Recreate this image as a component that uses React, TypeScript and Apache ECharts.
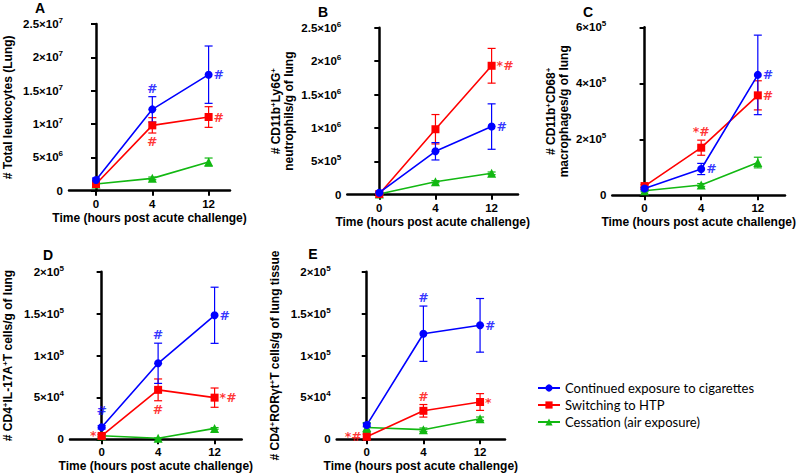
import React, { useEffect, useRef } from "react";
import * as echarts from "echarts";

const timeLabels = ["0", "4", "12"];
const seriesNames = [
  "Continued exposure to cigarettes",
  "Switching to HTP",
  "Cessation (air exposure)",
];
const seriesColors = ["#0000FF", "#FF0000", "#12B812"];
const seriesSymbols = ["circle", "rect", "triangle"];

// Panel A – total leukocytes
const aCig = [1.6e6, 12.2e6, 17.4e6];
const aCigErr = [0.3e6, 1.9e6, 4.3e6];
const aHtp = [1.0e6, 9.8e6, 11.05e6];
const aHtpErr = [0.2e6, 1.15e6, 1.55e6];
const aAir = [1.0e6, 1.85e6, 4.3e6];
const aAirErr = [0.1e6, 0.2e6, 0.6e6];

// Panel B – neutrophils
const bCig = [3e4, 6.5e5, 10.2e5];
const bCigErr = [1e4, 1.3e5, 3.4e5];
const bHtp = [1e4, 9.8e5, 1.93e6];
const bHtpErr = [5e3, 2.2e5, 2.6e5];
const bAir = [1e4, 1.95e5, 3.2e5];
const bAirErr = [5e3, 1.5e4, 2e4];

// Panel C – macrophages
const cCig = [2.4e4, 0.94e5, 4.3e5];
const cCigErr = [0.5e4, 0.2e5, 1.42e5];
const cHtp = [3.3e4, 1.7e5, 3.57e5];
const cHtpErr = [0.5e4, 0.27e5, 0.52e5];
const cAir = [1.6e4, 0.37e5, 1.17e5];
const cAirErr = [0.3e4, 0.05e5, 0.19e5];

// Panel D – CD4+IL-17A+ T cells
const dCig = [1.43e4, 9.07e4, 14.8e4];
const dCigErr = [0.2e4, 2.4e4, 3.35e4];
const dHtp = [0.4e4, 5.9e4, 4.97e4];
const dHtpErr = [0.2e4, 1.3e4, 1.15e4];
const dAir = [0.43e4, 0.12e4, 1.3e4];
const dAirErr = [0.1e4, 0.05e4, 0.1e4];

// Panel E – CD4+RORγt+ T cells
const eCig = [1.7e4, 12.6e4, 13.6e4];
const eCigErr = [0.2e4, 3.3e4, 3.2e4];
const eHtp = [0.3e4, 3.4e4, 4.45e4];
const eHtpErr = [0.3e4, 0.75e4, 1e4];
const eAir = [1.4e4, 1.15e4, 2.46e4];
const eAirErr = [0.6e4, 0.2e4, 0.2e4];

// significance marks: series index, time index, text, side
const notesA = [
  { s: 0, i: 1, text: "#", side: "top" },
  { s: 0, i: 2, text: "#", side: "right" },
  { s: 1, i: 2, text: "#", side: "right" },
  { s: 1, i: 1, text: "#", side: "bottom" },
];
const notesB = [
  { s: 1, i: 2, text: "*#", side: "right" },
  { s: 0, i: 2, text: "#", side: "right" },
];
const notesC = [
  { s: 1, i: 1, text: "*#", side: "top" },
  { s: 0, i: 1, text: "#", side: "right" },
  { s: 0, i: 2, text: "#", side: "right" },
  { s: 1, i: 2, text: "#", side: "right" },
];
const notesD = [
  { s: 0, i: 0, text: "#", side: "top", far: true },
  { s: 1, i: 0, text: "*", side: "left" },
  { s: 0, i: 1, text: "#", side: "top" },
  { s: 1, i: 1, text: "#", side: "bottom" },
  { s: 0, i: 2, text: "#", side: "right" },
  { s: 1, i: 2, text: "*#", side: "right" },
];
const notesE = [
  { s: 0, i: 1, text: "#", side: "top" },
  { s: 0, i: 2, text: "#", side: "right" },
  { s: 1, i: 1, text: "#", side: "top" },
  { s: 1, i: 2, text: "*", side: "right" },
  { s: 1, i: 0, text: "*#", side: "left" },
];

const xTitle = "Time (hours post acute challenge)";
const FONT = "Liberation Sans, Arial, sans-serif";
const NOTE_FONT = "DejaVu Sans, sans-serif";

const panels = [
  {
    letter: "A",
    letterPos: [40, 8],
    grid: { left: 69, top: 24, width: 161, height: 166.7 },
    xMin: -0.48,
    xMax: 2.38,
    yMax: 2.5e7,
    yInt: 5e6,
    yName: "# Total leukocytes (Lung)",
    yNameGap: 55,
    values: [aCig, aHtp, aAir],
    errs: [aCigErr, aHtpErr, aAirErr],
    notes: notesA,
  },
  {
    letter: "B",
    letterPos: [323, 12],
    grid: { left: 347.3, top: 27.7, width: 170.7, height: 167 },
    xMin: -0.57,
    xMax: 2.47,
    yMax: 2.5e6,
    yInt: 5e5,
    yName: "{t|# CD11b}{s|+}{t|Ly6G}{s|+}\n{t|neutrophils/g of lung}",
    yNameGap: 52,
    values: [bCig, bHtp, bAir],
    errs: [bCigErr, bHtpErr, bAirErr],
    notes: notesB,
  },
  {
    letter: "C",
    letterPos: [588, 12],
    grid: { left: 612.3, top: 27.3, width: 172.7, height: 168 },
    xMin: -0.57,
    xMax: 2.48,
    yMax: 6e5,
    yInt: 2e5,
    yName: "{t|# CD11b}{s|+}{t|CD68}{s|+}\n{t|macrophages/g of lung}",
    yNameGap: 42,
    values: [cCig, cHtp, cAir],
    errs: [cCigErr, cHtpErr, cAirErr],
    notes: notesC,
  },
  {
    letter: "D",
    letterPos: [48, 255],
    grid: { left: 69, top: 271.7, width: 172.7, height: 167.6 },
    xMin: -0.56,
    xMax: 2.48,
    yMax: 2e5,
    yInt: 5e4,
    yName: "{t|# CD4}{s|+}{t|IL-17A}{s|+}{t|T cells/g of lung}",
    yNameGap: 56,
    values: [dCig, dHtp, dAir],
    errs: [dCigErr, dHtpErr, dAirErr],
    notes: notesD,
  },
  {
    letter: "E",
    letterPos: [313, 254],
    grid: { left: 336.7, top: 271.7, width: 168.3, height: 167.6 },
    xMin: -0.53,
    xMax: 2.44,
    yMax: 2e5,
    yInt: 5e4,
    yName: "{t|# CD4}{s|+}{t|RORγt}{s|+}{t|T cells/g of lung tissue}",
    yNameGap: 55,
    values: [eCig, eHtp, eAir],
    errs: [eCigErr, eHtpErr, eAirErr],
    notes: notesE,
  },
];

function sciLabel(v: number) {
  if (v === 0) return "{m|0}";
  const e = Math.floor(Math.log10(v) + 1e-9);
  const m = +(v / Math.pow(10, e)).toFixed(2);
  return `{m|${m}×10}{e|${e}}`;
}

function buildOption() {
  const grids: any[] = [];
  const xAxes: any[] = [];
  const yAxes: any[] = [];
  const series: any[] = [];
  const graphics: any[] = [];

  panels.forEach((p, k) => {
    grids.push({ ...p.grid, containLabel: false });
    xAxes.push({
      type: "value",
      gridIndex: k,
      min: p.xMin,
      max: p.xMax,
      name: xTitle,
      nameLocation: "middle",
      nameGap: 21,
      nameTextStyle: { fontFamily: FONT, fontWeight: "bold", fontSize: 12, color: "#000" },
      axisLine: { show: true, onZero: false, lineStyle: { color: "#000", width: 2.5 } },
      axisTick: { show: true, length: 5, customValues: [0, 1, 2], lineStyle: { color: "#000", width: 2 } },
      axisLabel: {
        customValues: [0, 1, 2],
        formatter: (v: number) => timeLabels[Math.round(v)] ?? "",
        margin: 7,
        fontFamily: FONT,
        fontWeight: "bold",
        fontSize: 11.5,
        color: "#000",
      },
      splitLine: { show: false },
    });
    yAxes.push({
      type: "value",
      gridIndex: k,
      min: 0,
      max: p.yMax,
      interval: p.yInt,
      name: p.yName,
      nameLocation: "middle",
      nameRotate: 90,
      nameGap: p.yNameGap,
      nameTextStyle: {
        fontFamily: FONT,
        fontWeight: "bold",
        fontSize: 12,
        color: "#000",
        lineHeight: 13,
        rich: {
          t: { fontFamily: FONT, fontWeight: "bold", fontSize: 12, color: "#000", lineHeight: 13 },
          s: { fontFamily: FONT, fontWeight: "bold", fontSize: 8, color: "#000", verticalAlign: "top", lineHeight: 8 },
        },
      },
      axisLine: { show: true, lineStyle: { color: "#000", width: 2.5 } },
      axisTick: { show: true, length: 5, lineStyle: { color: "#000", width: 2 } },
      axisLabel: {
        margin: 6,
        formatter: sciLabel,
        rich: {
          m: { fontFamily: FONT, fontWeight: "bold", fontSize: 11.5, color: "#000", lineHeight: 15 },
          e: { fontFamily: FONT, fontWeight: "bold", fontSize: 8, color: "#000", verticalAlign: "top", lineHeight: 8 },
        },
      },
      splitLine: { show: false },
    });

    // draw order: air, HTP, cigarettes on top
    [2, 1, 0].forEach((s) => {
      const vals = p.values[s];
      const errs = p.errs[s];
      series.push({
        type: "custom",
        name: `err-${p.letter}-${s}`,
        xAxisIndex: k,
        yAxisIndex: k,
        silent: true,
        z: 2 + (2 - s),
        data: vals.map((v, i) => [i, v, errs[i]]),
        encode: { x: 0, y: 1 },
        renderItem: (params: any, api: any) => {
          const x = api.value(0);
          const y = api.value(1);
          const e = api.value(2);
          const top = api.coord([x, y + e]);
          const bot = api.coord([x, Math.max(0, y - e)]);
          const hw = 4;
          const st = { stroke: seriesColors[s], lineWidth: 1.2 };
          return {
            type: "group",
            children: [
              { type: "line", shape: { x1: top[0], y1: top[1], x2: bot[0], y2: bot[1] }, style: st },
              { type: "line", shape: { x1: top[0] - hw, y1: top[1], x2: top[0] + hw, y2: top[1] }, style: st },
              { type: "line", shape: { x1: bot[0] - hw, y1: bot[1], x2: bot[0] + hw, y2: bot[1] }, style: st },
            ],
          };
        },
      });
      series.push({
        type: "line",
        name: seriesNames[s],
        xAxisIndex: k,
        yAxisIndex: k,
        z: 3 + (2 - s),
        data: vals.map((v, i) => [i, v]),
        symbol: seriesSymbols[s],
        symbolSize: s === 2 ? 9 : 8,
        showSymbol: true,
        lineStyle: { color: seriesColors[s], width: 1.6 },
        itemStyle: { color: seriesColors[s] },
        emphasis: { disabled: true },
      });
    });

    [0, 1].forEach((s) => {
      const items = p.notes
        .filter((n: any) => n.s === s)
        .map((n: any) => {
          const v = p.values[s][n.i];
          const e = p.errs[s][n.i];
          const anchor = n.side === "top" ? v + e : n.side === "bottom" ? v - e : v;
          const vertical = n.side === "top" || n.side === "bottom";
          return {
            value: [n.i, anchor],
            label: {
              show: true,
              position: n.side,
              distance: vertical ? (n.far ? 9 : 2) : 5,
              formatter: n.text,
              color: seriesColors[s],
              fontFamily: NOTE_FONT,
              fontWeight: "bold",
              fontSize: 12.5,
            },
          };
        });
      if (!items.length) return;
      series.push({
        type: "scatter",
        name: `note-${p.letter}-${s}`,
        xAxisIndex: k,
        yAxisIndex: k,
        symbolSize: 0,
        silent: true,
        z: 10,
        data: items,
        label: {
          show: true,
          color: seriesColors[s],
          fontFamily: NOTE_FONT,
          fontWeight: "bold",
          fontSize: 12.5,
        },
      });
    });

    graphics.push({
      type: "text",
      x: p.letterPos[0],
      y: p.letterPos[1],
      style: {
        text: p.letter,
        fontFamily: FONT,
        fontWeight: "bold",
        fontSize: 14,
        fill: "#000",
        textAlign: "center",
        textVerticalAlign: "middle",
      },
    });
  });

  return {
    animation: false,
    backgroundColor: "#fff",
    grid: grids,
    xAxis: xAxes,
    yAxis: yAxes,
    series,
    graphic: graphics,
    legend: {
      data: seriesNames,
      orient: "vertical",
      left: 532,
      top: 376,
      itemWidth: 22,
      itemHeight: 9,
      itemGap: 3,
      selectedMode: false,
      textStyle: { fontFamily: "Lato, sans-serif", fontSize: 13, color: "#000", lineHeight: 14 },
    },
  };
}

export default function App() {
  const ref = useRef<HTMLDivElement>(null);
  useEffect(() => {
    if (!ref.current) return;
    const chart = echarts.init(ref.current, undefined, { renderer: "svg" });
    chart.setOption(buildOption() as any);
    return () => chart.dispose();
  }, []);
  return <div ref={ref} style={{ width: 798, height: 475, position: "absolute", left: 0, top: 0 }} />;
}
